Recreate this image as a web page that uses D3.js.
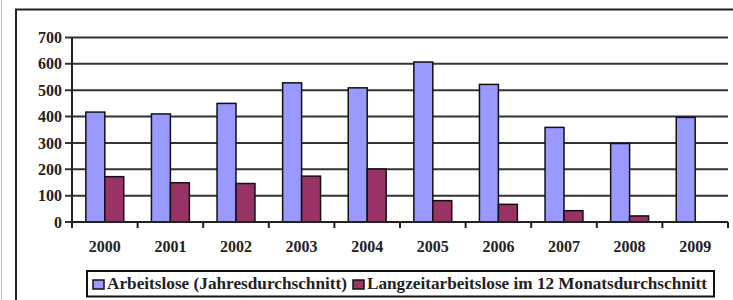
<!DOCTYPE html>
<html>
<head>
<meta charset="utf-8">
<script src="https://d3js.org/d3.v7.min.js"></script>
<style>
  body { margin: 0; background: #fff; }
  svg { display: block; }
</style>
</head>
<body>
<div id="chart"></div>
<script>
const years = ['2000', '2001', '2002', '2003', '2004', '2005', '2006', '2007', '2008', '2009'];
const arbeitslose = [417, 410, 450, 528, 509, 607, 522, 359, 298, 397];
const langzeit = [172, 149, 146, 174, 201, 81, 67, 43, 23, 0];
const seriesNames = ['Arbeitslose (Jahresdurchschnitt)', 'Langzeitarbeitslose im 12 Monatsdurchschnitt'];
const seriesColors = ['#9999ff', '#993366'];
const yTicks = [0, 100, 200, 300, 400, 500, 600, 700];

const width = 733;
const height = 300;
const plot = { left: 72, right: 728, top: 37.5, bottom: 222 };
const font = '"Liberation Serif", "DejaVu Serif", serif';

const svg = d3.select('#chart')
  .append('svg')
  .attr('width', width)
  .attr('height', height);

// page edge + outer frame
svg.append('line')
  .attr('x1', 1.5).attr('x2', 1.5).attr('y1', 0).attr('y2', height)
  .attr('stroke', '#bbb').attr('stroke-width', 1);

svg.append('rect')
  .attr('x', 16).attr('y', 9.5)
  .attr('width', 800).attr('height', 400)
  .attr('fill', 'none')
  .attr('stroke', '#222')
  .attr('stroke-width', 2);

const x0 = d3.scaleBand()
  .domain(years)
  .range([plot.left, plot.right])
  .padding(0);

const x1 = d3.scaleBand()
  .domain([0, 1])
  .range([0, x0.bandwidth()])
  .paddingInner(0)
  .paddingOuter(0.73);

const y = d3.scaleLinear()
  .domain([0, 700])
  .range([plot.bottom, plot.top]);

// gridlines
svg.append('g')
  .selectAll('line')
  .data(yTicks)
  .enter()
  .append('line')
  .attr('x1', plot.left - 7)
  .attr('x2', plot.right)
  .attr('y1', d => y(d))
  .attr('y2', d => y(d))
  .attr('stroke', '#333')
  .attr('stroke-width', 2);

// y labels
svg.append('g')
  .selectAll('text')
  .data(yTicks)
  .enter()
  .append('text')
  .attr('x', plot.left - 10)
  .attr('y', d => y(d))
  .attr('dy', '0.35em')
  .attr('text-anchor', 'end')
  .style('font-family', font)
  .style('font-weight', 'bold')
  .style('font-size', '16px')
  .attr('fill', '#222')
  .text(d => d);

// bars
const groups = svg.append('g')
  .selectAll('g')
  .data(years)
  .enter()
  .append('g')
  .attr('transform', d => `translate(${x0(d)},0)`);

groups.selectAll('rect')
  .data((d, i) => [arbeitslose[i], langzeit[i]])
  .enter()
  .filter(d => d > 0)
  .append('rect')
  .attr('x', (d, i) => x1(i))
  .attr('y', d => y(d))
  .attr('width', x1.bandwidth())
  .attr('height', d => y(0) - y(d))
  .attr('fill', (d, i) => seriesColors[i])
  .attr('stroke', '#111')
  .attr('stroke-width', 1.5);

// y axis line
svg.append('line')
  .attr('x1', plot.left).attr('x2', plot.left)
  .attr('y1', plot.top).attr('y2', plot.bottom)
  .attr('stroke', '#222').attr('stroke-width', 2);

// x axis line + ticks
svg.append('line')
  .attr('x1', plot.left).attr('x2', plot.right)
  .attr('y1', plot.bottom).attr('y2', plot.bottom)
  .attr('stroke', '#222').attr('stroke-width', 2);

svg.append('g')
  .selectAll('line')
  .data(years.map(d => x0(d)).concat([plot.right]))
  .enter()
  .append('line')
  .attr('x1', d => d).attr('x2', d => d)
  .attr('y1', plot.bottom).attr('y2', plot.bottom + 6)
  .attr('stroke', '#222').attr('stroke-width', 2);

svg.append('g')
  .selectAll('text')
  .data(years)
  .enter()
  .append('text')
  .attr('x', d => x0(d) + x0.bandwidth() / 2)
  .attr('y', 252)
  .attr('text-anchor', 'middle')
  .style('font-family', font)
  .style('font-weight', 'bold')
  .style('font-size', '16px')
  .attr('fill', '#222')
  .text(d => d);

// legend
const legend = svg.append('g');
legend.append('rect')
  .attr('x', 87).attr('y', 271)
  .attr('width', 627).attr('height', 25.5)
  .attr('fill', '#fff')
  .attr('stroke', '#111')
  .attr('stroke-width', 2);

const legendItems = [
  { sx: 93, tx: 107, tw: 240 },
  { sx: 353, tx: 367, tw: 340 }
];
legendItems.forEach((it, i) => {
  legend.append('rect')
    .attr('x', it.sx).attr('y', 280)
    .attr('width', 11).attr('height', 9)
    .attr('fill', seriesColors[i])
    .attr('stroke', '#111')
    .attr('stroke-width', 1.5);
  legend.append('text')
    .attr('x', it.tx).attr('y', 289)
    .attr('textLength', it.tw)
    .attr('lengthAdjust', 'spacingAndGlyphs')
    .style('font-family', font)
    .style('font-weight', 'bold')
    .style('font-size', '16px')
    .attr('fill', '#222')
    .text(seriesNames[i]);
});
</script>
</body>
</html>
